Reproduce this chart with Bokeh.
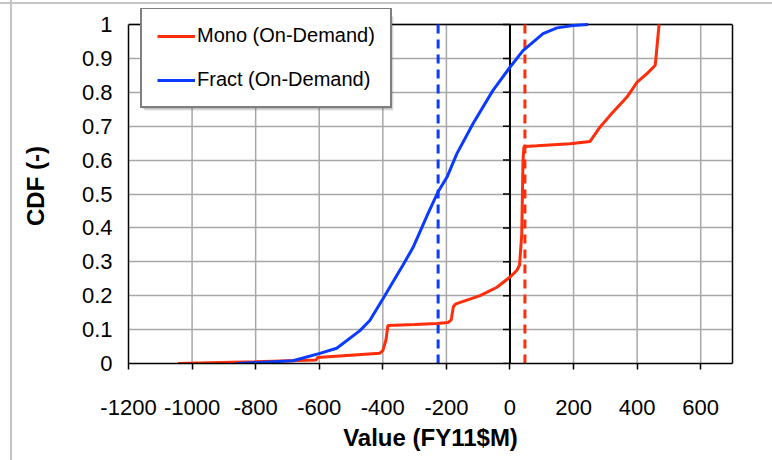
from bokeh.plotting import figure
from bokeh.models import Range1d, FixedTicker, Legend, LegendItem, BoxAnnotation, LinearAxis
from bokeh.embed import file_html
from bokeh.resources import INLINE

# ---- data ----
mono_x = [-1045, -803, -610, -605, -410, -400, -390, -384, -300, -230, -195, -185, -178,
          -170, -94, -41, 0, 22, 30, 37, 41, 44, 47, 85, 189, 252, 283, 315, 368, 400,
          431, 457, 463, 469]
mono_y = [0.0, 0.005, 0.01, 0.018, 0.03, 0.038, 0.07, 0.112, 0.115, 0.118, 0.121, 0.128,
          0.168, 0.176, 0.2, 0.225, 0.255, 0.275, 0.29, 0.38, 0.6, 0.64, 0.64, 0.642, 0.648,
          0.655, 0.697, 0.732, 0.786, 0.83, 0.855, 0.88, 0.94, 1.0]

fract_x = [-860, -683, -598, -545, -472, -441, -400, -337, -305, -258, -227, -198, -167,
           -116, -54, 0, 41, 104, 148, 198, 246]
fract_y = [0.0, 0.008, 0.03, 0.045, 0.097, 0.127, 0.19, 0.29, 0.342, 0.442, 0.505, 0.55,
           0.619, 0.708, 0.805, 0.874, 0.923, 0.973, 0.99, 0.997, 1.0]

mono_mean = 47
fract_mean = -226

x_ticks = [-1200, -1000, -800, -600, -400, -200, 0, 200, 400, 600]
x_tick_labels = ["-1200", "-1000", "-800", "-600", "-400", "-200", "0", "200", "400", "600"]
y_ticks = [0, 0.1, 0.2, 0.3, 0.4, 0.5, 0.6, 0.7, 0.8, 0.9, 1.0]
y_tick_labels = ["0", "0.1", "0.2", "0.3", "0.4", "0.5", "0.6", "0.7", "0.8", "0.9", "1"]

series_names = ["Mono (On-Demand)", "Fract (On-Demand)"]
RED = "#ff2d0a"
BLUE = "#0b3bff"
GRID = "#a8a8a8"
FONT = "Liberation Sans"

X0, X1 = -1200, 700
Y0, Y1 = 0.0, 1.0
W, H = 772, 460
# plot-area box in page pixels; the drawing frame extends a little above it so the
# legend box can stick out over the top edge, as in the reference
FRAME_L, FRAME_R, AREA_T, FRAME_B = 128, 732, 24, 363
FRAME_T = 8


def px_to_x(px):
    return X0 + (px - FRAME_L) * (X1 - X0) / (FRAME_R - FRAME_L)


def py_to_y(py):
    return Y0 + (FRAME_B - py) * (Y1 - Y0) / (FRAME_B - AREA_T)


# ---- figure ----
p = figure(width=W, height=H, output_backend="svg", toolbar_location=None,
           x_range=Range1d(X0, X1), y_range=Range1d(Y0, py_to_y(FRAME_T)),
           min_border_left=FRAME_L, min_border_right=W - FRAME_R, min_border_top=FRAME_T,
           min_border_bottom=H - FRAME_B)
p.background_fill_color = "white"
p.border_fill_color = "white"
p.border_fill_alpha = 0.0
# thin light-gray chart-area border (left and top edges), shown through the
# transparent border fill
p.styles = {
    "background": ("linear-gradient(to right, transparent 10px, #c4c4c4 10px, "
                   "#c4c4c4 12px, transparent 12px), "
                   "linear-gradient(to bottom, transparent 2px, #c4c4c4 2px, "
                   "#c4c4c4 4px, transparent 4px), white"),
}
p.outline_line_color = None

# horizontal grid (spans the full width of the plot area)
p.ygrid.ticker = FixedTicker(ticks=y_ticks)
p.ygrid.grid_line_color = GRID
p.ygrid.grid_line_width = 1.5
# vertical grid only between y=0 and y=1
p.xgrid.visible = False
vx = [t for t in x_ticks if t not in (X0, 0)]
p.segment(x0=vx, x1=vx, y0=[Y0] * len(vx), y1=[Y1] * len(vx),
          line_color=GRID, line_width=1.5)

# x axis
xa = p.xaxis[0]
xa.ticker = FixedTicker(ticks=x_ticks)
xa.major_label_overrides = {t: l for t, l in zip(x_ticks, x_tick_labels)}
xa.axis_label = "Value (FY11$M)"
xa.axis_line_color = "black"
xa.axis_line_width = 1.5
xa.major_tick_out = 6
xa.major_tick_in = 0
xa.major_tick_line_color = "black"
xa.major_tick_line_width = 1.5
xa.minor_tick_line_color = None
xa.major_label_standoff = 30
xa.axis_label_standoff = 6
xa.major_label_text_font = FONT
xa.major_label_text_font_size = "22px"
xa.major_label_text_color = "black"
xa.axis_label_text_font = FONT
xa.axis_label_text_font_style = "bold"
xa.axis_label_text_font_size = "24px"
xa.axis_label_text_color = "black"

# y axis
ya = p.yaxis[0]
ya.ticker = FixedTicker(ticks=y_ticks)
ya.bounds = (Y0, Y1)
ya.major_label_overrides = {t: l for t, l in zip(y_ticks, y_tick_labels)}
ya.axis_label = "CDF (-)"
ya.axis_line_color = "black"
ya.axis_line_width = 1.5
ya.major_tick_out = 0
ya.major_tick_in = 0
ya.minor_tick_line_color = None
ya.major_label_standoff = 16
ya.axis_label_standoff = 30
ya.major_label_text_font = FONT
ya.major_label_text_font_size = "22px"
ya.major_label_text_color = "black"
ya.axis_label_text_font = FONT
ya.axis_label_text_font_style = "bold"
ya.axis_label_text_font_size = "24px"
ya.axis_label_text_color = "black"

# right edge of plot area
ra = LinearAxis(ticker=FixedTicker(ticks=[]), bounds=(Y0, Y1),
                axis_line_color="black", axis_line_width=1.5,
                major_tick_line_color=None, minor_tick_line_color=None,
                major_label_text_color=None)
p.add_layout(ra, "right")

# top edge of plot area
p.segment(x0=[X0], x1=[X1], y0=[Y1], y1=[Y1], line_color="black", line_width=1.5)

# vertical zero axis with ticks pointing left
p.segment(x0=[0], x1=[0], y0=[Y0], y1=[Y1], line_color="black", line_width=2)
tick_len = px_to_x(FRAME_L + 7) - X0
p.segment(x0=[0] * len(y_ticks), x1=[-tick_len] * len(y_ticks), y0=y_ticks, y1=y_ticks,
          line_color="black", line_width=1.5)

# mean lines (dashed)
p.segment(x0=[fract_mean], x1=[fract_mean], y0=[Y0], y1=[Y1],
          line_color=BLUE, line_width=3, line_dash="9 6")
p.segment(x0=[mono_mean], x1=[mono_mean], y0=[Y0], y1=[Y1],
          line_color=RED, line_width=3, line_dash="9 6")

# CDF curves
r_mono = p.line(mono_x, mono_y, line_color=RED, line_width=3)
r_fract = p.line(fract_x, fract_y, line_color=BLUE, line_width=3)

# legend drop shadow
for off, alpha in ((4, 0.16), (3, 0.2), (2, 0.24)):
    p.add_layout(BoxAnnotation(left=px_to_x(140 + off), right=px_to_x(389 + off),
                               top=py_to_y(12 + off), bottom=py_to_y(106 + off),
                               fill_color="#606060", fill_alpha=alpha, line_color=None))

legend = Legend(items=[LegendItem(label=series_names[0], renderers=[r_mono]),
                       LegendItem(label=series_names[1], renderers=[r_fract])],
                location=(140 - FRAME_L, FRAME_B - 108))
legend.label_text_font = FONT
legend.label_text_font_size = "20px"
legend.label_text_color = "black"
legend.glyph_width = 38
legend.glyph_height = 20
legend.spacing = 21
legend.padding = 15
legend.margin = 0
legend.label_standoff = 2
legend.border_line_color = "black"
legend.border_line_width = 2
legend.background_fill_color = "white"
legend.background_fill_alpha = 1.0
p.add_layout(legend)

open("out.html", "w").write(file_html(p, INLINE))
